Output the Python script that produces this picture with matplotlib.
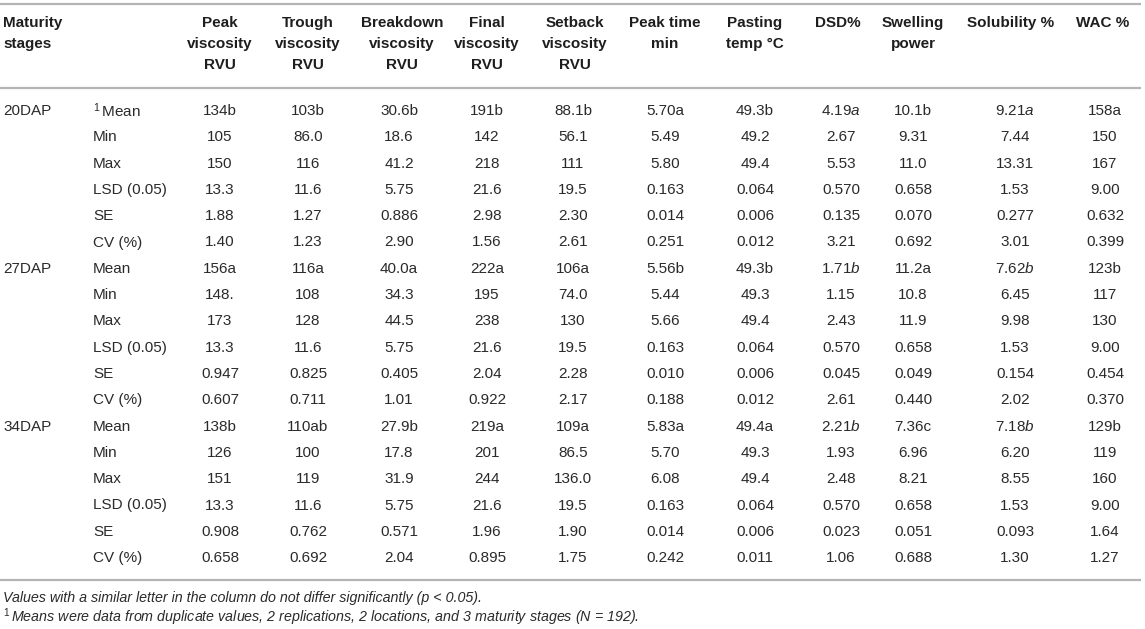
import re
import matplotlib
matplotlib.use("Agg")
import matplotlib.pyplot as plt

plt.rcParams['font.family'] = ['Liberation Sans', 'DejaVu Sans']
plt.rcParams['mathtext.fontset'] = 'custom'
plt.rcParams['mathtext.rm'] = 'Liberation Sans'
plt.rcParams['mathtext.it'] = 'Liberation Sans:italic'
plt.rcParams['mathtext.bf'] = 'Liberation Sans:bold'

# ---------------- data ----------------
stages = ["20DAP", "27DAP", "34DAP"]
stats = ["Mean", "Min", "Max", "LSD (0.05)", "SE", "CV (%)"]

headers = [
    ["Peak", "viscosity", "RVU"],
    ["Trough", "viscosity", "RVU"],
    ["Breakdown", "viscosity", "RVU"],
    ["Final", "viscosity", "RVU"],
    ["Setback", "viscosity", "RVU"],
    ["Peak time", "min"],
    ["Pasting", "temp °C"],
    ["DSD%"],
    ["Swelling", "power"],
    ["Solubility %"],
    ["WAC %"],
]

peak_visc = ["134b", "105", "150", "13.3", "1.88", "1.40",
             "156a", "148.", "173", "13.3", "0.947", "0.607",
             "138b", "126", "151", "13.3", "0.908", "0.658"]
trough_visc = ["103b", "86.0", "116", "11.6", "1.27", "1.23",
               "116a", "108", "128", "11.6", "0.825", "0.711",
               "110ab", "100", "119", "11.6", "0.762", "0.692"]
breakdown_visc = ["30.6b", "18.6", "41.2", "5.75", "0.886", "2.90",
                  "40.0a", "34.3", "44.5", "5.75", "0.405", "1.01",
                  "27.9b", "17.8", "31.9", "5.75", "0.571", "2.04"]
final_visc = ["191b", "142", "218", "21.6", "2.98", "1.56",
              "222a", "195", "238", "21.6", "2.04", "0.922",
              "219a", "201", "244", "21.6", "1.96", "0.895"]
setback_visc = ["88.1b", "56.1", "111", "19.5", "2.30", "2.61",
                "106a", "74.0", "130", "19.5", "2.28", "2.17",
                "109a", "86.5", "136.0", "19.5", "1.90", "1.75"]
peak_time = ["5.70a", "5.49", "5.80", "0.163", "0.014", "0.251",
             "5.56b", "5.44", "5.66", "0.163", "0.010", "0.188",
             "5.83a", "5.70", "6.08", "0.163", "0.014", "0.242"]
pasting_temp = ["49.3b", "49.2", "49.4", "0.064", "0.006", "0.012",
                "49.3b", "49.3", "49.4", "0.064", "0.006", "0.012",
                "49.4a", "49.3", "49.4", "0.064", "0.006", "0.011"]
dsd = ["4.19a", "2.67", "5.53", "0.570", "0.135", "3.21",
       "1.71b", "1.15", "2.43", "0.570", "0.045", "2.61",
       "2.21b", "1.93", "2.48", "0.570", "0.023", "1.06"]
swelling = ["10.1b", "9.31", "11.0", "0.658", "0.070", "0.692",
            "11.2a", "10.8", "11.9", "0.658", "0.049", "0.440",
            "7.36c", "6.96", "8.21", "0.658", "0.051", "0.688"]
solubility = ["9.21a", "7.44", "13.31", "1.53", "0.277", "3.01",
              "7.62b", "6.45", "9.98", "1.53", "0.154", "2.02",
              "7.18b", "6.20", "8.55", "1.53", "0.093", "1.30"]
wac = ["158a", "150", "167", "9.00", "0.632", "0.399",
       "123b", "117", "130", "9.00", "0.454", "0.370",
       "129b", "119", "160", "9.00", "1.64", "1.27"]

columns = [peak_visc, trough_visc, breakdown_visc, final_visc, setback_visc,
           peak_time, pasting_temp, dsd, swelling, solubility, wac]
italic_letter_cols = [7, 9]  # DSD%, Solubility %: significance letters in italics

footnote1 = "Values with a similar letter in the column do not differ significantly (p < 0.05)."
footnote2 = "Means were data from duplicate values, 2 replications, 2 locations, and 3 maturity stages (N = 192)."

# ---------------- layout ----------------
W, H = 1145, 629
fig = plt.figure(figsize=(W / 100, H / 100), dpi=100)
ax = fig.add_axes([0, 0, 1, 1])
ax.set_xlim(0, W)
ax.set_ylim(H, 0)
ax.axis("off")

col_x = [220, 308, 402, 487, 575, 665, 755, 838, 913, 1011, 1103]
val_dx = [0, 0, -3, 0, -2, 0, 0, 3, 0, 4, 2]
hdr_y = [23, 44, 65]
row0, dy = 111, 26.3
txt = "#2a2a2a"
hdr_c = "#1e1e1e"
fs = 11
rule_c = "#b4b4b4"

for y in (4, 88, 580):
    ax.plot([0, 1141], [y, y], color=rule_c, lw=1.6, solid_capstyle="butt")

# headers
ax.text(3, hdr_y[0], "Maturity", ha="left", va="center", fontsize=fs,
        fontweight="bold", color=hdr_c)
ax.text(3, hdr_y[1], "stages", ha="left", va="center", fontsize=fs,
        fontweight="bold", color=hdr_c)
for cx, lines in zip(col_x, headers):
    for k, line in enumerate(lines):
        ax.text(cx, hdr_y[k], line, ha="center", va="center", fontsize=fs,
                fontweight="bold", color=hdr_c)

# body
for i in range(len(stages) * len(stats)):
    y = row0 + i * dy
    s, r = divmod(i, len(stats))
    if r == 0:
        ax.text(3, y, stages[s], ha="left", va="center", fontsize=fs, color=txt)
    label = stats[r]
    if i == 0:
        label = r"$^{1}\,$" + label
    ax.text(93, y, label, ha="left", va="center", fontsize=fs, color=txt)
    for c, col in enumerate(columns):
        v = col[i]
        if c in italic_letter_cols:
            m = re.match(r"^([0-9.]+)([a-z]*)$", v)
            if m and m.group(2):
                v = m.group(1) + r"$\mathit{" + m.group(2) + "}$"
        ax.text(col_x[c] + val_dx[c], y, v, ha="center", va="center",
                fontsize=fs, color=txt)

ax.text(3, 598, footnote1, ha="left", va="center", fontsize=10.3,
        style="italic", color=txt)
ax.text(3, 617, r"$^{1}\,$" + footnote2, ha="left", va="center", fontsize=10.3,
        style="italic", color=txt)

fig.savefig("out.png", dpi=100)
